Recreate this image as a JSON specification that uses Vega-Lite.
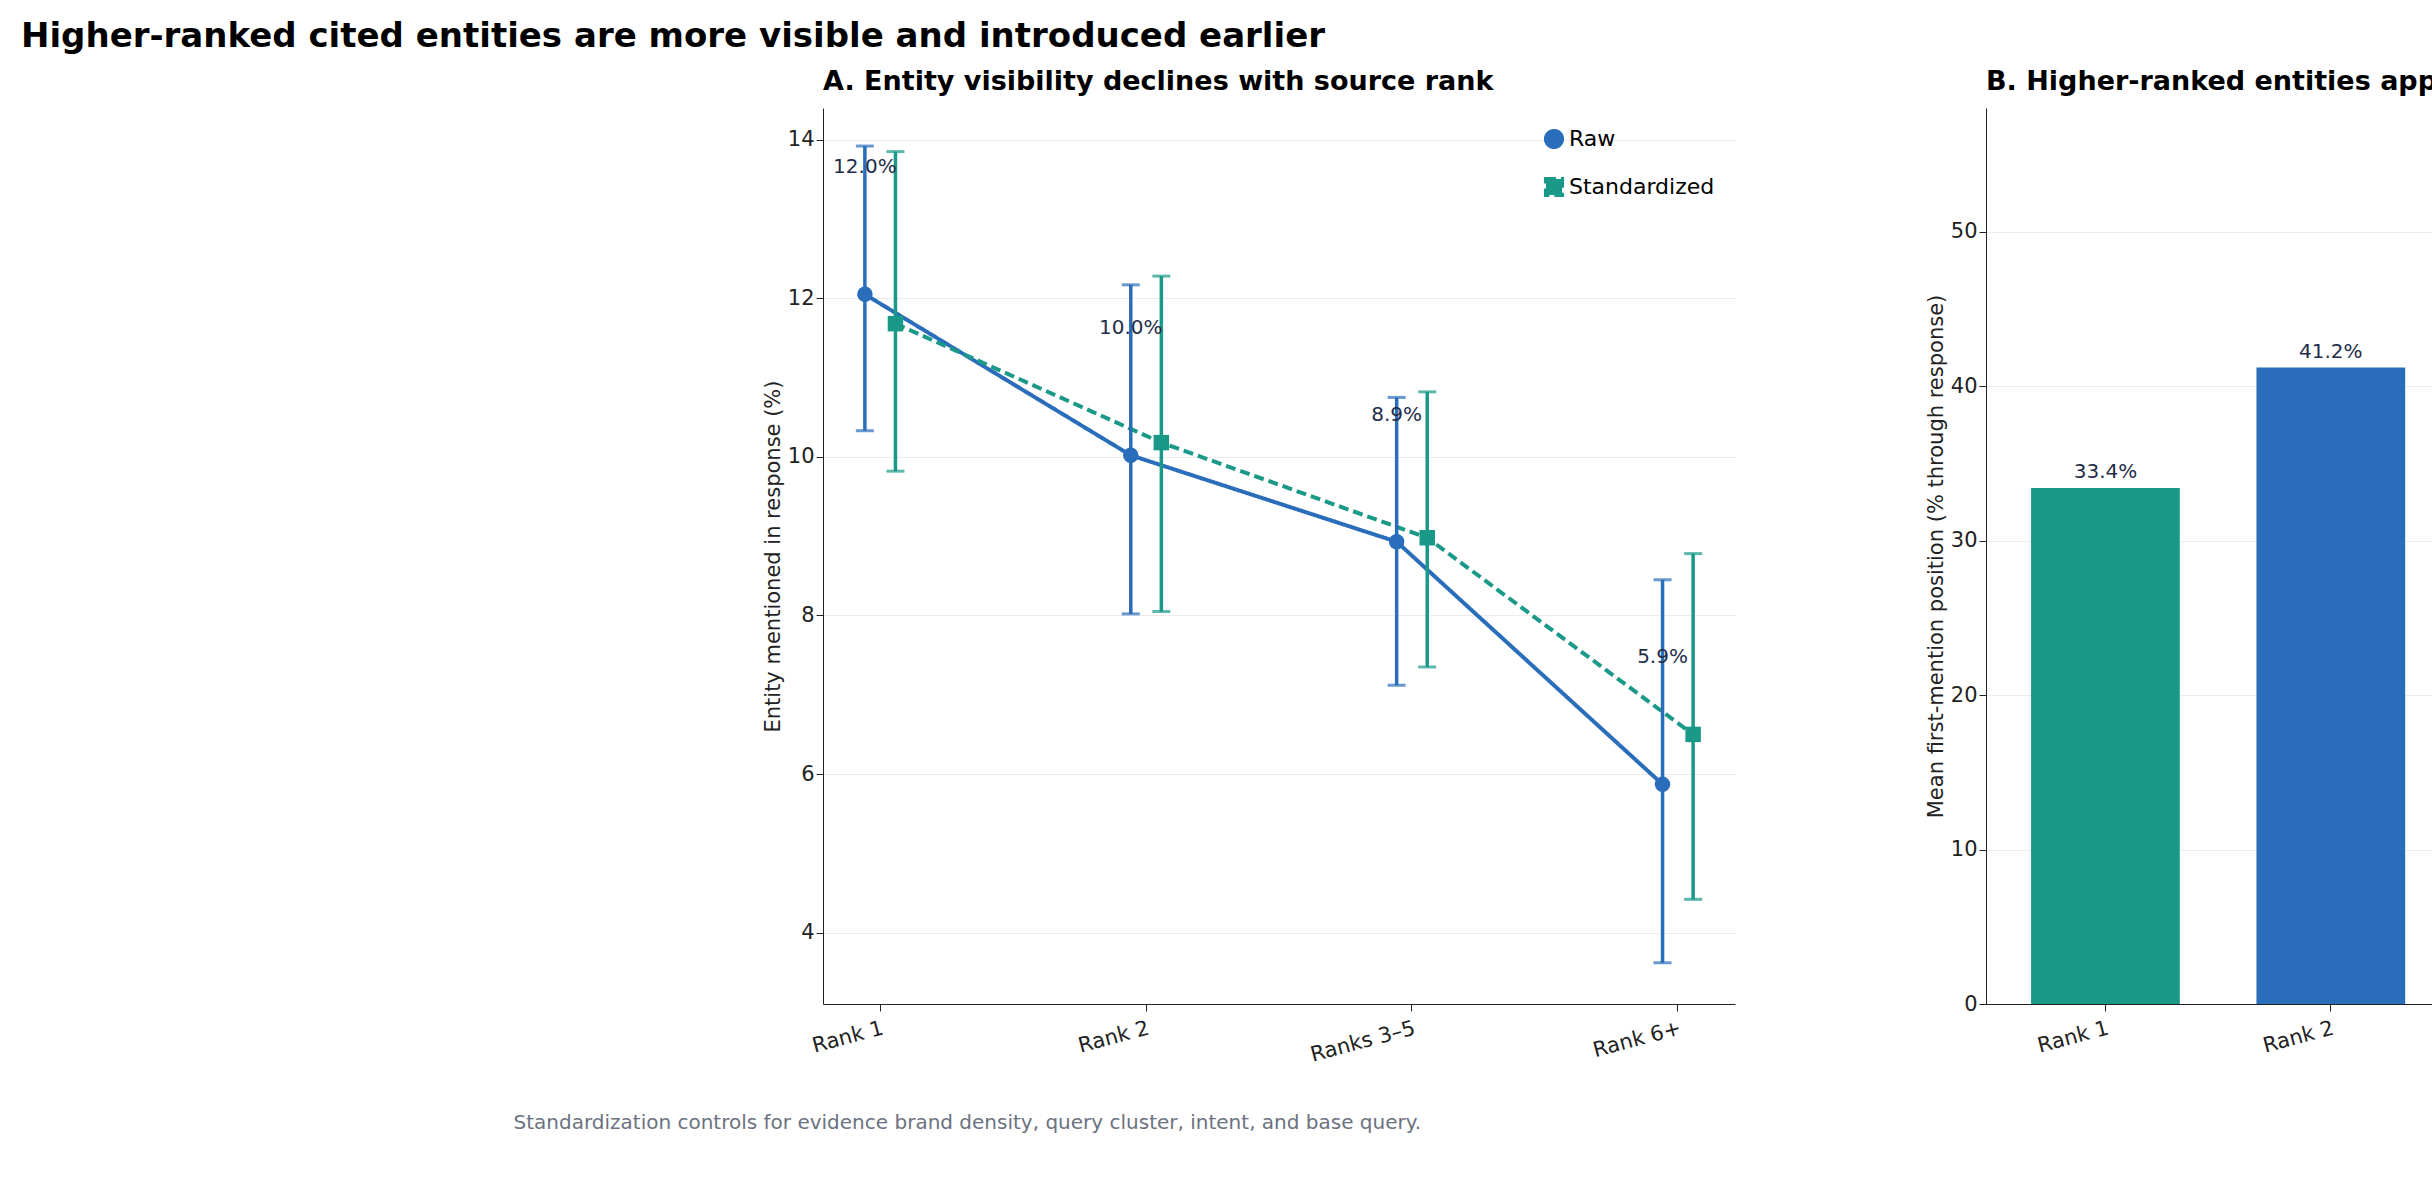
{
  "$schema": "https://vega.github.io/schema/vega-lite/v6.json",
  "background": "white",
  "padding": {"left": 20, "top": 20, "right": 20, "bottom": 10},
  "title": {"text": "Higher-ranked cited entities are more visible and introduced earlier", "fontSize": 34, "font": "DejaVu Sans", "fontWeight": "bold", "anchor": "middle", "dx": -150, "offset": 14},
  "config": {
    "font": "DejaVu Sans",
    "view": {"stroke": null},
    "axis": {"labelFontSize": 21, "titleFontSize": 21, "titleFontWeight": "normal", "labelColor": "#222", "titleColor": "#222", "domainColor": "#222", "tickColor": "#222", "gridColor": "#ececec", "tickSize": 7},
    "title": {"fontSize": 27, "fontWeight": "bold", "anchor": "start", "font": "DejaVu Sans", "frame": "group"}
  },
  "datasets": {
    "vis": [
      {"rank": "Rank 1", "series": "Raw", "value": 12.05, "lo": 10.33, "hi": 13.92, "label": "12.0%"},
      {"rank": "Rank 2", "series": "Raw", "value": 10.02, "lo": 8.02, "hi": 12.17, "label": "10.0%"},
      {"rank": "Ranks 3–5", "series": "Raw", "value": 8.93, "lo": 7.12, "hi": 10.75, "label": "8.9%"},
      {"rank": "Rank 6+", "series": "Raw", "value": 5.87, "lo": 3.62, "hi": 8.45, "label": "5.9%"},
      {"rank": "Rank 1", "series": "Standardized", "value": 11.68, "lo": 9.82, "hi": 13.85, "label": ""},
      {"rank": "Rank 2", "series": "Standardized", "value": 10.18, "lo": 8.05, "hi": 12.28, "label": ""},
      {"rank": "Ranks 3–5", "series": "Standardized", "value": 8.98, "lo": 7.35, "hi": 10.82, "label": ""},
      {"rank": "Rank 6+", "series": "Standardized", "value": 6.5, "lo": 4.42, "hi": 8.78, "label": ""}
    ],
    "pos": [
      {"rank": "Rank 1", "value": 33.4},
      {"rank": "Rank 2", "value": 41.2},
      {"rank": "Ranks 3–5", "value": 43.8},
      {"rank": "Rank 6+", "value": 50.8}
    ]
  },
  "resolve": {"scale": {"color": "independent", "shape": "independent", "strokeDash": "independent"}, "legend": {"color": "independent", "shape": "independent"}},
  "hconcat": [
    {
      "width": 912,
      "height": 896,
      "title": {"text": "A. Entity visibility declines with source rank", "offset": 12},
      "data": {"name": "vis"},
      "encoding": {
        "x": {"field": "rank", "type": "nominal", "sort": ["Rank 1", "Rank 2", "Ranks 3–5", "Rank 6+"],
          "scale": {"type": "band", "paddingInner": 0.77, "paddingOuter": 0.1},
          "axis": {"labelAngle": -15, "grid": false, "labelPadding": 6,
            "title": "Standardization controls for evidence brand density, query cluster, intent, and base query.",
            "titleColor": "#6b7280", "titleFontSize": 20, "titleAlign": "left", "titleAnchor": "start", "titleX": -310, "titleY": 108}},
        "xOffset": {"field": "series", "type": "nominal", "scale": {"domain": ["Raw", "Standardized"]}},
        "color": {"field": "series", "type": "nominal", "scale": {"domain": ["Raw", "Standardized"], "range": ["#2a6ebb", "#1a9988"]},
          "legend": {"title": null, "orient": "top-right", "labelFontSize": 22, "symbolSize": 260, "symbolStrokeWidth": 4, "offset": 20, "rowPadding": 14}}
      },
      "layer": [
        {"mark": {"type": "line", "strokeWidth": 4},
          "encoding": {"y": {"field": "value", "type": "quantitative", "scale": {"domain": [3.1, 14.4], "nice": false},
              "axis": {"values": [4, 6, 8, 10, 12, 14], "format": "d", "title": "Entity mentioned in response (%)", "titleFontSize": 21, "grid": true}},
            "strokeDash": {"field": "series", "type": "nominal", "scale": {"domain": ["Raw", "Standardized"], "range": [[1, 0], [10, 5]]}, "legend": null},
            "shape": {"field": "series", "type": "nominal", "scale": {"domain": ["Raw", "Standardized"], "range": ["circle", "square"]}, "legend": {"title": null}}}},
        {"mark": {"type": "rule", "strokeWidth": 3.5}, "encoding": {"y": {"field": "lo", "type": "quantitative"}, "y2": {"field": "hi"}}},
        {"mark": {"type": "tick", "thickness": 3, "size": 18}, "encoding": {"y": {"field": "lo", "type": "quantitative"}}},
        {"mark": {"type": "tick", "thickness": 3, "size": 18}, "encoding": {"y": {"field": "hi", "type": "quantitative"}}},
        {"mark": {"type": "point", "filled": true, "opacity": 1, "size": 240},
          "encoding": {"y": {"field": "value", "type": "quantitative"},
            "shape": {"field": "series", "type": "nominal", "scale": {"domain": ["Raw", "Standardized"], "range": ["circle", "square"]}, "legend": {"title": null}}}},
        {"mark": {"type": "text", "fontSize": 20, "color": "#1f2d4a", "dy": -4},
          "transform": [{"filter": "datum.series == 'Raw'"}, {"calculate": "datum.value + 1.55", "as": "ly"}],
          "encoding": {"y": {"field": "ly", "type": "quantitative"}, "text": {"field": "label"}, "color": {"value": "#1f2d4a"}}}
      ]
    },
    {
      "width": 915,
      "height": 896,
      "title": {"text": "B. Higher-ranked entities appear earlier", "offset": 12},
      "data": {"name": "pos"},
      "encoding": {
        "x": {"field": "rank", "type": "nominal", "sort": ["Rank 1", "Rank 2", "Ranks 3–5", "Rank 6+"],
          "scale": {"paddingInner": 0.34, "paddingOuter": 0.2},
          "axis": {"labelAngle": -15, "title": null, "labelPadding": 6}},
        "y": {"field": "value", "type": "quantitative", "scale": {"domain": [0, 58], "nice": false},
          "axis": {"values": [0, 10, 20, 30, 40, 50], "title": "Mean first-mention position (% through response)", "grid": true}}
      },
      "layer": [
        {"mark": {"type": "bar"},
          "encoding": {"color": {"field": "rank", "type": "nominal", "scale": {"domain": ["Rank 1", "Rank 2", "Ranks 3–5", "Rank 6+"], "range": ["#1a9988", "#2a6ebb", "#e07b3f", "#6b7280"]}, "legend": null}}},
        {"mark": {"type": "text", "fontSize": 20, "color": "#1f2d4a", "dy": -16},
          "transform": [{"calculate": "format(datum.value, '.1f') + '%'", "as": "lbl"}],
          "encoding": {"text": {"field": "lbl"}}}
      ]
    }
  ],
  "spacing": 190
}
